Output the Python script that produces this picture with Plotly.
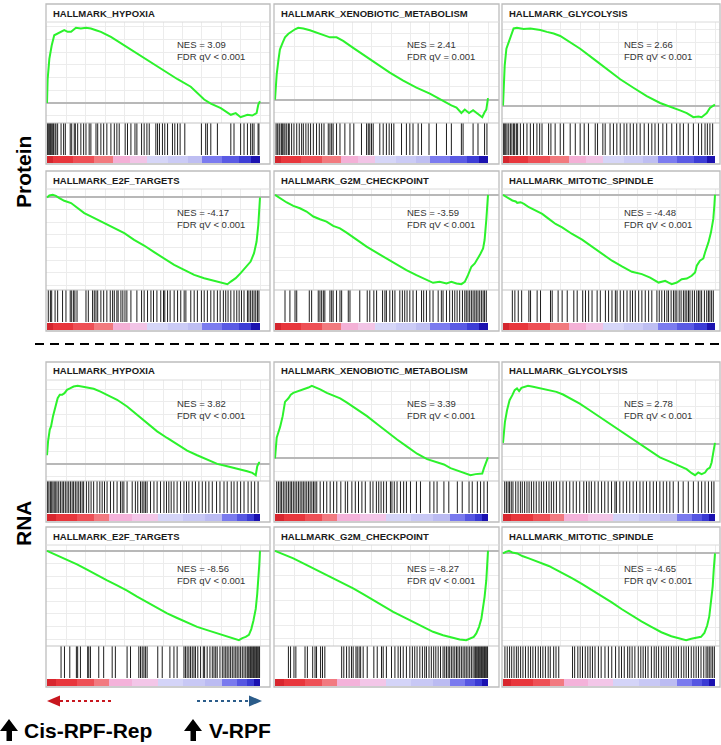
import plotly.graph_objects as go

W, H = 721, 745
FONT = "Liberation Sans, Arial, sans-serif"

# ---------------------------------------------------------------- labels
TITLES = ["HALLMARK_HYPOXIA", "HALLMARK_XENOBIOTIC_METABOLISM", "HALLMARK_GLYCOLYSIS",
          "HALLMARK_E2F_TARGETS", "HALLMARK_G2M_CHECKPOINT", "HALLMARK_MITOTIC_SPINDLE",
          "HALLMARK_HYPOXIA", "HALLMARK_XENOBIOTIC_METABOLISM", "HALLMARK_GLYCOLYSIS",
          "HALLMARK_E2F_TARGETS", "HALLMARK_G2M_CHECKPOINT", "HALLMARK_MITOTIC_SPINDLE"]
NES = [3.09, 2.41, 2.66, -4.17, -3.59, -4.48, 3.82, 3.39, 2.78, -8.56, -8.27, -4.65]
FDR = ["< 0.001", "= 0.001", "< 0.001", "< 0.001", "< 0.001", "< 0.001",
       "< 0.001", "< 0.001", "< 0.001", "< 0.001", "< 0.001", "< 0.001"]

# ---------------------------------------------------------------- Protein: running enrichment scores (rank in % of list)
P_HYPOXIA_RANK = [0, 0.3, 1.1, 2.2, 3.4, 5.0, 8.1, 9.7, 11.3, 13.6, 15.9, 18.3, 20.6, 23.0, 25.3, 30.0, 36.3,
                  42.5, 48.8, 55.0, 61.3, 67.5, 73.8, 76.9, 81.6, 86.3, 88.6, 90.9, 94.1, 96.4, 98.4, 99.2, 100]
P_HYPOXIA_ES = [0, 0.187, 0.347, 0.453, 0.533, 0.547, 0.573, 0.56, 0.56, 0.592, 0.587, 0.592, 0.587, 0.573, 0.56,
                0.52, 0.453, 0.387, 0.32, 0.253, 0.187, 0.128, 0.027, -0.005, -0.04, -0.093, -0.08, -0.112, -0.093,
                -0.099, -0.08, -0.013, 0.013]

P_XENO_RANK = [0, 0.3, 0.8, 1.6, 2.3, 3.6, 4.7, 6.3, 7.8, 9.4, 10.9, 13.3, 16.4, 19.5, 22.7, 25.8, 28.9, 32.0,
               36.7, 41.4, 47.7, 53.9, 60.2, 66.4, 72.7, 77.3, 80.5, 82.8, 85.2, 87.5, 89.1, 91.1, 93.0, 95.3,
               97.3, 98.4, 99.2, 100]
P_XENO_ES = [0, 0.112, 0.192, 0.299, 0.379, 0.432, 0.472, 0.499, 0.517, 0.533, 0.544, 0.539, 0.525, 0.507, 0.491,
             0.472, 0.472, 0.445, 0.392, 0.339, 0.272, 0.205, 0.144, 0.091, 0.045, 0.005, -0.027, -0.043, -0.061,
             -0.101, -0.075, -0.101, -0.08, -0.107, -0.133, -0.096, -0.075, 0.011]

P_GLY_RANK = [0, 0.3, 0.8, 1.6, 2.7, 3.8, 5.0, 6.6, 9.7, 12.9, 16.0, 17.6, 20.7, 23.9, 27.0, 31.7, 36.4, 42.7,
              49.0, 55.3, 61.5, 67.8, 74.1, 78.8, 83.5, 86.7, 89.8, 92.2, 93.7, 96.1, 97.6, 99.2, 100]
P_GLY_ES = [0, 0.155, 0.315, 0.448, 0.501, 0.555, 0.608, 0.613, 0.603, 0.608, 0.603, 0.595, 0.581, 0.568, 0.549,
            0.501, 0.448, 0.368, 0.288, 0.208, 0.141, 0.075, 0.021, -0.005, -0.037, -0.059, -0.091, -0.085,
            -0.091, -0.059, -0.019, 0.0, 0.008]

P_E2F_RANK = [0, 1.1, 2.7, 4.2, 5.8, 8.1, 11.3, 14.4, 17.5, 20.6, 23.8, 26.9, 31.6, 36.3, 40.9, 45.6, 50.3, 55.0,
              59.7, 64.4, 69.1, 73.8, 78.4, 81.6, 84.7, 86.3, 88.6, 90.9, 93.3, 95.6, 97.2, 98.4, 99.2, 99.7, 100]
P_E2F_ES = [0, 0.016, 0.021, 0.013, -0.005, -0.027, -0.045, -0.085, -0.125, -0.152, -0.179, -0.205, -0.245,
            -0.285, -0.339, -0.384, -0.437, -0.491, -0.539, -0.579, -0.619, -0.645, -0.667, -0.677, -0.693,
            -0.672, -0.645, -0.605, -0.56, -0.512, -0.445, -0.352, -0.219, -0.085, 0]

P_G2M_RANK = [0, 2.3, 5.5, 8.6, 11.7, 14.8, 18.0, 21.1, 24.2, 27.3, 30.5, 33.6, 38.3, 43.0, 47.7, 52.3, 57.0,
              61.7, 66.4, 71.1, 74.2, 77.3, 80.5, 82.8, 85.2, 87.5, 89.1, 90.6, 92.2, 93.8, 95.3, 96.4, 97.7,
              98.4, 99.2, 99.7, 100]
P_G2M_ES = [0, -0.027, -0.061, -0.088, -0.107, -0.133, -0.173, -0.195, -0.213, -0.248, -0.267, -0.301, -0.36,
            -0.413, -0.461, -0.507, -0.552, -0.6, -0.64, -0.68, -0.701, -0.693, -0.707, -0.693, -0.707, -0.712,
            -0.693, -0.64, -0.573, -0.547, -0.507, -0.472, -0.427, -0.36, -0.2, -0.067, 0]

P_MIT_RANK = [0, 2.0, 4.4, 6.0, 6.7, 8.3, 9.9, 12.2, 15.4, 18.5, 21.6, 24.8, 27.9, 32.6, 37.3, 42.0, 46.7, 51.4,
              56.1, 60.8, 65.5, 69.4, 73.4, 74.9, 76.5, 78.1, 79.6, 82.0, 84.3, 86.7, 89.0, 90.6, 91.4, 92.9,
              94.5, 95.3, 96.9, 98.1, 99.2, 99.7, 100]
P_MIT_ES = [0, -0.019, -0.045, -0.053, -0.064, -0.059, -0.072, -0.099, -0.125, -0.152, -0.192, -0.232, -0.259,
            -0.312, -0.357, -0.411, -0.464, -0.525, -0.571, -0.613, -0.632, -0.659, -0.699, -0.693, -0.685,
            -0.699, -0.712, -0.699, -0.672, -0.667, -0.645, -0.619, -0.565, -0.525, -0.507, -0.459, -0.379,
            -0.299, -0.192, -0.085, 0]

# ---------------------------------------------------------------- RNA: running enrichment scores
R_HYPOXIA_RANK = [0, 0.5, 1.3, 1.9, 2.8, 3.9, 5.0, 6.0, 7.1, 8.2, 9.4, 11.0, 12.5, 14.4, 16.5, 18.8, 21.9, 25.1,
                  28.2, 32.9, 37.6, 42.3, 47.0, 51.7, 56.4, 61.1, 65.8, 70.5, 75.2, 79.9, 84.6, 89.3, 94.0, 96.4,
                  98.0, 98.7, 99.5, 100]
R_HYPOXIA_ES = [0.069, 0.181, 0.275, 0.301, 0.381, 0.461, 0.528, 0.555, 0.555, 0.568, 0.595, 0.608, 0.621, 0.627,
                0.621, 0.613, 0.603, 0.581, 0.555, 0.515, 0.461, 0.395, 0.328, 0.261, 0.208, 0.155, 0.107, 0.069,
                0.035, 0, -0.019, -0.037, -0.059, -0.072, -0.091, -0.019, 0.008, 0.008]

R_XENO_RANK = [0, 0.3, 0.8, 1.6, 2.4, 3.6, 4.7, 6.3, 7.4, 8.6, 11.0, 13.3, 15.7, 17.3, 18.8, 21.2, 24.3, 27.5,
               30.6, 33.8, 38.5, 43.2, 47.9, 52.6, 57.3, 62.0, 66.7, 71.4, 76.1, 79.3, 82.4, 85.6, 88.7, 91.8,
               94.2, 95.8, 97.3, 98.1, 98.9, 100]
R_XENO_ES = [0, 0.061, 0.155, 0.195, 0.235, 0.315, 0.421, 0.448, 0.475, 0.488, 0.501, 0.515, 0.528, 0.541, 0.533,
             0.515, 0.488, 0.469, 0.448, 0.416, 0.368, 0.315, 0.256, 0.195, 0.141, 0.088, 0.035, -0.005, -0.032,
             -0.045, -0.072, -0.091, -0.112, -0.125, -0.117, -0.112, -0.112, -0.072, -0.032, 0.008]

R_GLY_RANK = [0, 0.3, 0.9, 1.9, 3.1, 4.4, 5.5, 6.6, 7.6, 8.7, 10.2, 11.8, 14.2, 16.5, 18.9, 22.0, 25.2, 28.3,
              31.5, 36.2, 40.9, 45.7, 50.4, 55.1, 59.8, 64.6, 69.3, 74.0, 78.7, 83.5, 86.6, 89.0, 90.6, 92.1,
              93.7, 95.3, 96.4, 97.6, 98.4, 99.2, 100]
R_GLY_ES = [0.008, 0.093, 0.173, 0.267, 0.347, 0.387, 0.427, 0.44, 0.419, 0.445, 0.453, 0.461, 0.453, 0.445, 0.44,
            0.427, 0.413, 0.392, 0.365, 0.32, 0.267, 0.213, 0.16, 0.107, 0.053, 0, -0.053, -0.107, -0.141, -0.173,
            -0.2, -0.232, -0.248, -0.227, -0.24, -0.227, -0.2, -0.187, -0.147, -0.067, 0.008]

R_E2F_RANK = [0, 4.7, 9.4, 14.1, 18.8, 23.5, 28.2, 32.9, 37.6, 42.3, 47.0, 51.7, 56.4, 61.1, 65.8, 70.5, 75.2,
              79.9, 84.6, 87.8, 90.1, 91.7, 93.3, 94.8, 95.9, 96.9, 98.0, 98.7, 99.4, 99.7, 100]
R_E2F_ES = [0, -0.035, -0.069, -0.107, -0.149, -0.195, -0.235, -0.275, -0.315, -0.363, -0.408, -0.453, -0.496,
            -0.533, -0.568, -0.603, -0.629, -0.656, -0.683, -0.701, -0.709, -0.693, -0.683, -0.667, -0.621,
            -0.555, -0.461, -0.341, -0.208, -0.101, 0]

R_G2M_RANK = [0, 3.9, 8.6, 13.3, 18.0, 22.7, 27.3, 32.0, 36.7, 41.4, 46.1, 50.8, 55.5, 60.2, 64.8, 69.5, 74.2,
              78.9, 82.8, 86.7, 89.8, 91.4, 93.3, 94.5, 95.8, 96.9, 97.7, 98.4, 99.2, 99.7, 100]
R_G2M_ES = [0, -0.027, -0.061, -0.101, -0.141, -0.181, -0.221, -0.261, -0.301, -0.347, -0.395, -0.443, -0.488,
            -0.528, -0.568, -0.608, -0.648, -0.675, -0.693, -0.709, -0.715, -0.701, -0.688, -0.661, -0.608,
            -0.541, -0.461, -0.368, -0.235, -0.101, 0]

R_MIT_RANK = [0, 1.3, 2.8, 4.4, 6.7, 9.1, 12.2, 15.3, 18.4, 21.6, 24.7, 27.8, 32.5, 37.2, 41.9, 46.6, 51.3, 55.9,
              60.6, 65.3, 70.0, 74.7, 79.4, 83.3, 86.4, 88.8, 91.1, 93.4, 95.0, 96.3, 97.3, 98.1, 98.9, 99.4, 100]
R_MIT_ES = [0, 0.013, 0.021, 0.008, 0, -0.021, -0.04, -0.059, -0.08, -0.101, -0.128, -0.155, -0.2, -0.245,
            -0.293, -0.341, -0.395, -0.448, -0.501, -0.547, -0.592, -0.635, -0.667, -0.688, -0.699, -0.688,
            -0.68, -0.672, -0.64, -0.581, -0.507, -0.4, -0.267, -0.133, 0]

# ---------------------------------------------------------------- gene-set hit positions (% of ranked list)
P_HYPOXIA_HITS = [0.3, 0.6, 1.1, 1.6, 2.2, 2.7, 3.1, 3.8, 4.2, 5.0, 6.6, 7.8, 8.6, 10.9, 11.6, 12.8, 13.3, 14.4,
                  15.9, 17.2, 18.3, 19.8, 20.6, 23.0, 23.8, 25.3, 26.6, 28.1, 30.0, 31.6, 32.8, 33.9, 36.7, 37.8,
                  39.4, 41.3, 42.2, 44.4, 45.6, 46.9, 48.0, 51.1, 51.9, 52.8, 54.2, 55.3, 56.6, 58.9, 60.0, 61.3,
                  62.5, 64.7, 72.5, 74.5, 75.3, 76.9, 80.0, 86.3, 87.8, 90.9, 92.5, 94.1, 95.6, 96.4, 97.2, 99.1,
                  99.5]
P_XENO_HITS = [0.5, 1.1, 1.9, 2.3, 3.1, 3.6, 4.2, 4.7, 5.5, 6.3, 6.7, 7.8, 8.9, 10.2, 11.4, 12.5, 13.3, 14.5, 15.6,
               16.7, 18.0, 19.5, 20.8, 21.9, 23.0, 25.0, 25.8, 26.6, 27.3, 28.9, 30.5, 32.8, 35.2, 37.0, 40.6, 43.0,
               43.8, 44.5, 45.3, 46.1, 49.2, 50.8, 52.3, 53.6, 54.7, 55.8, 59.4, 61.7, 63.3, 64.8, 67.2, 68.8,
               72.3, 75.8, 80.5, 82.8, 87.5, 88.3, 93.0, 95.3, 98.4, 99.5]
P_GLY_HITS = [0.3, 0.8, 1.3, 1.9, 2.7, 3.5, 4.2, 5.0, 5.5, 6.3, 6.9, 8.2, 9.7, 11.3, 12.9, 14.4, 16.0, 17.3, 18.4,
              21.5, 22.6, 24.6, 27.0, 28.6, 31.7, 34.1, 36.4, 38.3, 40.3, 43.5, 44.6, 47.1, 48.2, 50.5, 52.1, 53.7,
              55.3, 57.1, 58.4, 60.0, 61.5, 63.1, 64.7, 66.6, 68.6, 70.2, 71.7, 73.3, 75.4, 77.2, 79.6, 81.9, 83.5,
              85.1, 87.4, 89.8, 92.2, 93.7, 95.3, 96.4, 97.6, 98.9]
P_E2F_HITS = [0.6, 1.6, 2.2, 3.8, 5.0, 7.3, 8.9, 10.9, 11.6, 12.5, 13.1, 14.1, 18.3, 19.4, 21.4, 22.2, 23.0, 23.8,
              25.3, 26.6, 28.1, 29.7, 30.8, 31.6, 32.8, 33.4, 34.7, 35.6, 36.6, 37.5, 39.4, 42.2, 44.4, 45.6, 47.2,
              48.8, 50.0, 51.6, 53.4, 54.7, 55.3, 56.6, 57.8, 59.7, 61.3, 62.8, 64.4, 65.2, 67.5, 69.1, 70.6, 72.5,
              73.8, 75.3, 76.9, 78.4, 80.0, 81.3, 82.8, 83.9, 85.0, 86.3, 87.8, 89.1, 90.2, 91.3, 92.5, 94.1, 94.8,
              95.6, 96.4, 97.2, 98.0, 98.8, 99.5]
P_G2M_HITS = [4.7, 7.0, 9.4, 10.2, 16.1, 17.2, 20.3, 21.1, 21.9, 22.7, 23.4, 25.8, 26.6, 27.3, 28.9, 30.5, 31.3,
              34.4, 35.2, 39.8, 43.3, 44.5, 46.4, 47.7, 50.5, 51.6, 52.3, 53.9, 55.2, 56.3, 58.6, 59.8, 60.9, 62.0,
              63.3, 64.8, 66.4, 68.8, 69.8, 71.1, 72.7, 74.2, 76.6, 78.1, 78.9, 80.5, 82.0, 83.3, 84.4, 85.5, 86.7,
              88.0, 89.1, 89.8, 90.6, 91.4, 92.2, 93.0, 93.8, 94.5, 95.3, 96.1, 96.9, 97.7, 98.4, 99.2]
P_MIT_HITS = [4.4, 5.6, 7.2, 8.8, 12.2, 13.0, 16.1, 17.7, 22.4, 23.2, 26.0, 27.9, 30.3, 33.4, 35.0, 37.6, 38.9,
              40.4, 42.0, 44.4, 45.9, 48.3, 49.8, 51.4, 53.0, 53.8, 55.3, 56.9, 58.5, 60.0, 61.1, 62.4, 64.0, 65.5,
              67.1, 68.7, 70.2, 72.6, 73.7, 74.9, 76.2, 77.3, 78.1, 79.3, 80.4, 81.2, 82.0, 83.1, 84.0, 85.1, 85.9,
              86.7, 87.5, 88.2, 89.3, 90.3, 91.4, 92.2, 92.9, 93.7, 95.0, 96.1, 96.9, 97.6, 98.4, 99.2]
R_HYPOXIA_HITS = [0.3, 0.9, 1.6, 2.2, 2.8, 3.4, 4.1, 4.7, 5.5, 6.3, 7.1, 7.8, 8.6, 9.4, 10.2, 11.0, 11.8, 12.5,
                  13.3, 14.1, 14.9, 15.7, 16.5, 17.2, 18.5, 19.6, 20.7, 21.9, 23.5, 24.8, 25.9, 27.0, 28.2, 29.8,
                  31.3, 32.9, 34.5, 35.3, 36.1, 37.6, 40.0, 41.5, 42.6, 43.9, 44.7, 45.5, 46.2, 47.0, 48.6, 50.2,
                  51.7, 53.3, 54.9, 56.1, 57.2, 58.3, 59.6, 61.1, 62.7, 64.3, 65.5, 66.6, 68.2, 69.7, 71.3, 72.9,
                  74.5, 76.0, 77.6, 79.6, 81.2, 83.1, 84.6, 86.5, 87.8, 89.3, 90.9, 92.5, 94.4, 95.9, 97.5, 99.1]
R_XENO_HITS = [0.8, 1.6, 2.4, 3.1, 3.9, 4.7, 5.5, 6.3, 7.1, 7.8, 8.6, 9.4, 10.2, 11.0, 11.8, 12.6, 13.3, 14.1, 14.9,
               15.7, 16.5, 17.3, 18.1, 18.8, 19.6, 21.2, 22.8, 24.3, 25.9, 27.5, 29.0, 30.9, 33.0, 34.1, 36.1, 37.7,
               39.2, 40.8, 42.4, 44.7, 46.0, 47.6, 48.7, 49.8, 51.0, 52.3, 54.2, 54.9, 56.0, 57.3, 58.9, 60.4, 61.7,
               63.6, 66.4, 68.3, 72.7, 74.6, 76.1, 79.3, 81.6, 85.6, 87.9, 91.1, 92.6, 95.0, 96.5, 98.1, 99.7]
R_GLY_HITS = [0.8, 1.6, 2.4, 3.1, 3.9, 4.7, 6.0, 7.1, 8.2, 9.1, 10.2, 11.3, 12.3, 13.4, 14.5, 15.7, 17.0, 18.1,
              19.2, 20.5, 21.7, 22.8, 23.9, 25.2, 26.8, 28.3, 29.9, 31.5, 33.1, 34.6, 36.2, 38.1, 39.4, 40.6, 41.7,
              43.3, 44.9, 46.5, 48.0, 49.6, 51.2, 52.8, 53.5, 55.1, 56.7, 58.3, 59.8, 61.4, 63.0, 64.6, 66.1, 67.7,
              69.3, 70.9, 72.4, 74.0, 75.6, 77.2, 78.7, 80.3, 82.7, 85.0, 87.4, 89.8, 92.1, 93.7, 95.3, 96.9, 98.4,
              99.5]
R_E2F_HITS = [6.6, 8.2, 10.7, 13.8, 14.4, 15.7, 19.1, 19.6, 20.4, 24.3, 26.6, 30.6, 32.1, 37.6, 39.2, 43.1, 43.9,
              44.7, 45.5, 46.2, 47.0, 52.0, 54.1, 57.7, 59.6, 61.1, 64.3, 65.0, 65.8, 66.6, 67.4, 68.2, 69.0, 69.7,
              70.8, 72.1, 73.4, 74.0, 75.2, 76.5, 77.6, 78.4, 79.2, 79.9, 81.2, 82.3, 83.1, 83.9, 84.6, 85.4, 86.2,
              87.0, 87.8, 88.6, 89.3, 90.1, 90.9, 91.7, 92.5, 93.3, 94.0, 94.4, 94.8, 95.3, 95.6, 96.1, 96.6, 97.0,
              97.5, 98.0, 98.4, 98.9, 99.4, 99.8]
R_G2M_HITS = [6.3, 7.3, 8.9, 9.8, 14.1, 15.2, 17.7, 18.8, 19.5, 21.4, 22.3, 23.4, 31.3, 32.3, 33.6, 34.8, 35.9,
              36.7, 38.0, 38.6, 39.5, 40.2, 41.4, 43.3, 46.4, 48.0, 50.0, 50.8, 52.3, 54.7, 56.3, 57.8, 58.9, 60.2,
              61.7, 63.3, 64.5, 65.6, 66.7, 68.0, 69.2, 70.3, 71.1, 72.3, 73.4, 74.5, 75.5, 76.6, 77.7, 78.9, 79.7,
              80.5, 81.3, 82.0, 82.8, 83.6, 84.4, 85.2, 85.9, 86.7, 87.5, 88.3, 89.1, 89.8, 90.6, 91.4, 92.2, 93.0,
              93.8, 94.2, 94.7, 95.2, 95.6, 96.1, 96.6, 97.0, 97.5, 98.0, 98.4, 98.9, 99.4, 99.8]
R_MIT_HITS = [0.9, 2.0, 3.1, 4.1, 5.2, 6.3, 7.2, 8.3, 9.4, 10.6, 11.9, 13.0, 14.1, 15.3, 16.6, 17.7, 18.8, 20.0,
              21.3, 22.3, 23.9, 25.0, 26.3, 32.8, 33.8, 35.3, 36.4, 37.5, 38.8, 40.0, 41.1, 42.2, 43.4, 45.0, 46.3,
              48.1, 49.7, 51.3, 53.1, 54.7, 55.9, 57.2, 58.8, 59.8, 60.9, 62.2, 63.8, 65.0, 66.1, 67.2, 68.4, 70.0,
              71.3, 72.3, 73.4, 74.7, 75.9, 77.0, 78.1, 79.4, 80.6, 81.7, 82.8, 84.1, 85.3, 86.4, 87.5, 88.8, 90.0,
              91.1, 92.2, 93.4, 94.7, 95.8, 96.6, 97.3, 98.1, 98.9, 99.7]

# ---------------------------------------------------------------- ranked-metric colour bar (segment edges in %)
GRAD_EDGES_PROTEIN = [0, 3, 12, 22, 31, 39, 47, 57, 66, 73, 82, 90, 96, 100]
GRAD_COLORS_PROTEIN = ["#d4262e", "#e8363c", "#ee4f55", "#f27a7e", "#f4b0d6", "#f2c4e6", "#d6d6f8",
                       "#cbcbf6", "#bebef2", "#7b7bef", "#5a5ae4", "#3d3dd6", "#1c12b0"]
GRAD_EDGES_RNA = [0, 4, 14, 22, 29, 40, 52, 64, 74, 82, 89, 94, 97, 100]
GRAD_COLORS_RNA = ["#d8262e", "#e8363c", "#ee5056", "#f27a80", "#f4b2da", "#f3c6e8", "#d4d4f8",
                   "#c8c8f5", "#bbbbf2", "#7a7aee", "#5656e2", "#3a3ad4", "#1a10b0"]

PANELS = [
    (P_HYPOXIA_RANK, P_HYPOXIA_ES, P_HYPOXIA_HITS),
    (P_XENO_RANK, P_XENO_ES, P_XENO_HITS),
    (P_GLY_RANK, P_GLY_ES, P_GLY_HITS),
    (P_E2F_RANK, P_E2F_ES, P_E2F_HITS),
    (P_G2M_RANK, P_G2M_ES, P_G2M_HITS),
    (P_MIT_RANK, P_MIT_ES, P_MIT_HITS),
    (R_HYPOXIA_RANK, R_HYPOXIA_ES, R_HYPOXIA_HITS),
    (R_XENO_RANK, R_XENO_ES, R_XENO_HITS),
    (R_GLY_RANK, R_GLY_ES, R_GLY_HITS),
    (R_E2F_RANK, R_E2F_ES, R_E2F_HITS),
    (R_G2M_RANK, R_G2M_ES, R_G2M_HITS),
    (R_MIT_RANK, R_MIT_ES, R_MIT_HITS),
]

# ---------------------------------------------------------------- panel geometry (pixels)
# (panel left, panel right, x of rank 0 %, x of rank 100 %)
COLS = [(46, 270, 47, 260), (274, 499, 275, 488), (502, 720, 503, 715)]
ROW_TOPS = [4, 171, 362, 527]
PANEL_H = 160
NES_X = [129, 131, 120]          # text offset from panel left


def px(x):
    return x / W


def py(y):
    return 1 - y / H


def suffix(k):
    return "" if k == 1 else str(k)


fig = go.Figure()
shapes, annotations = [], []
layout_axes = {}

for p, (rank, es, hits) in enumerate(PANELS):
    r, c = divmod(p, 3)
    left, right, d0, d1 = COLS[c]
    top = ROW_TOPS[r]
    ppu = (d1 - d0) / 100.0
    xr = [(left - d0) / ppu, (right - d0) / ppu]
    xdom = [px(left), px(right)]
    es_top, es_bot = top + 18, top + 119
    bc_top, bc_bot = top + 119, top + 151
    gr_top, gr_bot = top + 152, top + 159

    lo, hi = min(es), max(es)
    pad = 0.065 * (hi - lo)
    yranges = [[lo - pad, hi + pad], [0, 1], [0, 1]]
    ydoms = [[py(es_bot), py(es_top)], [py(bc_bot), py(bc_top)], [py(gr_bot), py(gr_top)]]

    for j in range(3):
        k = 3 * p + j + 1
        s = suffix(k)
        layout_axes[f"xaxis{s}"] = dict(
            domain=xdom, range=xr, anchor=f"y{s}", showticklabels=False, ticks="",
            zeroline=False, showline=False, showgrid=(j == 0), gridcolor="#ececec",
            gridwidth=1, tick0=0, dtick=100 / 11, fixedrange=True)
        layout_axes[f"yaxis{s}"] = dict(
            domain=ydoms[j], range=yranges[j], anchor=f"x{s}", showticklabels=False, ticks="",
            showline=False, showgrid=(j == 0), gridcolor="#ececec", gridwidth=1, dtick=0.1,
            zeroline=(j == 0), zerolinecolor="#b8b8b8", zerolinewidth=1.5, fixedrange=True)

    ka, kb, kc = 3 * p + 1, 3 * p + 2, 3 * p + 3

    # running enrichment score
    fig.add_trace(go.Scatter(x=rank, y=es, mode="lines", line=dict(color="#2cf22c", width=2),
                             xaxis=f"x{suffix(ka)}", yaxis=f"y{suffix(ka)}", hoverinfo="skip"))

    # hit barcode
    bx, by = [], []
    for h in hits:
        bx += [h, h, None]
        by += [0, 1, None]
    fig.add_trace(go.Scatter(x=bx, y=by, mode="lines", line=dict(color="#1e1e1e", width=1),
                             xaxis=f"x{suffix(kb)}", yaxis=f"y{suffix(kb)}", hoverinfo="skip"))

    # ranked-metric colour bar
    edges = GRAD_EDGES_PROTEIN if r < 2 else GRAD_EDGES_RNA
    colors = GRAD_COLORS_PROTEIN if r < 2 else GRAD_COLORS_RNA
    centers = [(a + b) / 2 for a, b in zip(edges[:-1], edges[1:])]
    widths = [b - a for a, b in zip(edges[:-1], edges[1:])]
    fig.add_trace(go.Bar(x=centers, y=[1] * len(centers), width=widths,
                         marker=dict(color=colors, line=dict(width=0)),
                         xaxis=f"x{suffix(kc)}", yaxis=f"y{suffix(kc)}", hoverinfo="skip"))

    # panel frame and separators
    shapes.append(dict(type="rect", xref="paper", yref="paper", x0=px(left), x1=px(right),
                       y0=py(top + PANEL_H), y1=py(top), line=dict(color="#bdbdbd", width=1.3),
                       fillcolor="rgba(0,0,0,0)", layer="above"))
    shapes.append(dict(type="line", xref="paper", yref="paper", x0=px(left), x1=px(right),
                       y0=py(es_top), y1=py(es_top), line=dict(color="#dadada", width=1)))
    shapes.append(dict(type="line", xref="paper", yref="paper", x0=px(left), x1=px(right),
                       y0=py(es_bot), y1=py(es_bot), line=dict(color="#c4c4c4", width=1.2)))

    annotations.append(dict(text=f"<b>{TITLES[p]}</b>", xref="paper", yref="paper",
                            x=px(left + 5), y=py(top + 9), xanchor="left", yanchor="middle",
                            showarrow=False, font=dict(family=FONT, size=9.5, color="#1a1a1a")))
    fdr = FDR[p].replace("<", "&lt;")
    annotations.append(dict(text=f"NES = {NES[p]:.2f}<br>FDR qV {fdr}", xref="paper", yref="paper",
                            x=px(left + NES_X[c]), y=py(top + 47), xanchor="left", yanchor="middle",
                            align="left", showarrow=False,
                            font=dict(family=FONT, size=9.5, color="#333333")))

# ---------------------------------------------------------------- row labels and separator
annotations.append(dict(text="<b>Protein</b>", xref="paper", yref="paper", x=px(23), y=py(172),
                        xanchor="center", yanchor="middle", textangle=-90, showarrow=False,
                        font=dict(family=FONT, size=21, color="black")))
annotations.append(dict(text="<b>RNA</b>", xref="paper", yref="paper", x=px(23), y=py(523),
                        xanchor="center", yanchor="middle", textangle=-90, showarrow=False,
                        font=dict(family=FONT, size=21, color="black")))
shapes.append(dict(type="line", xref="paper", yref="paper", x0=px(35), x1=px(721), y0=py(344), y1=py(344),
                   line=dict(color="black", width=2, dash="9px,6px")))

# ---------------------------------------------------------------- direction arrows
RED, BLUE = "#c8161e", "#2b5c8a"
shapes.append(dict(type="line", xref="paper", yref="paper", x0=px(60), x1=px(112), y0=py(701), y1=py(701),
                   line=dict(color=RED, width=2, dash="dot")))
shapes.append(dict(type="path", xref="paper", yref="paper", fillcolor=RED, line=dict(width=0),
                   path=f"M {px(47)},{py(701)} L {px(60)},{py(695.5)} L {px(60)},{py(706.5)} Z"))
shapes.append(dict(type="line", xref="paper", yref="paper", x0=px(197), x1=px(249), y0=py(701), y1=py(701),
                   line=dict(color=BLUE, width=2, dash="dot")))
shapes.append(dict(type="path", xref="paper", yref="paper", fillcolor=BLUE, line=dict(width=0),
                   path=f"M {px(262)},{py(701)} L {px(249)},{py(695.5)} L {px(249)},{py(706.5)} Z"))


def up_arrow(x0):
    pts = [(x0 + 9, 719), (x0 + 18, 731), (x0 + 12, 731), (x0 + 12, 741), (x0 + 6.5, 741),
           (x0 + 6.5, 731), (x0, 731)]
    d = "M " + " L ".join(f"{px(a)},{py(b)}" for a, b in pts) + " Z"
    return dict(type="path", xref="paper", yref="paper", fillcolor="black", line=dict(width=0), path=d)


shapes.append(up_arrow(0))
shapes.append(up_arrow(184))
annotations.append(dict(text="<b>Cis-RPF-Rep</b>", xref="paper", yref="paper", x=px(22), y=py(730),
                        xanchor="left", yanchor="middle", showarrow=False,
                        font=dict(family=FONT, size=21, color="black")))
annotations.append(dict(text="<b>V-RPF</b>", xref="paper", yref="paper", x=px(207), y=py(730),
                        xanchor="left", yanchor="middle", showarrow=False,
                        font=dict(family=FONT, size=21, color="black")))

fig.update_layout(width=W, height=H, margin=dict(l=0, r=0, t=0, b=0), paper_bgcolor="white",
                  plot_bgcolor="white", showlegend=False, bargap=0, hovermode=False,
                  shapes=shapes, annotations=annotations, **layout_axes)

fig.write_html("out.html", config={"displayModeBar": False})
